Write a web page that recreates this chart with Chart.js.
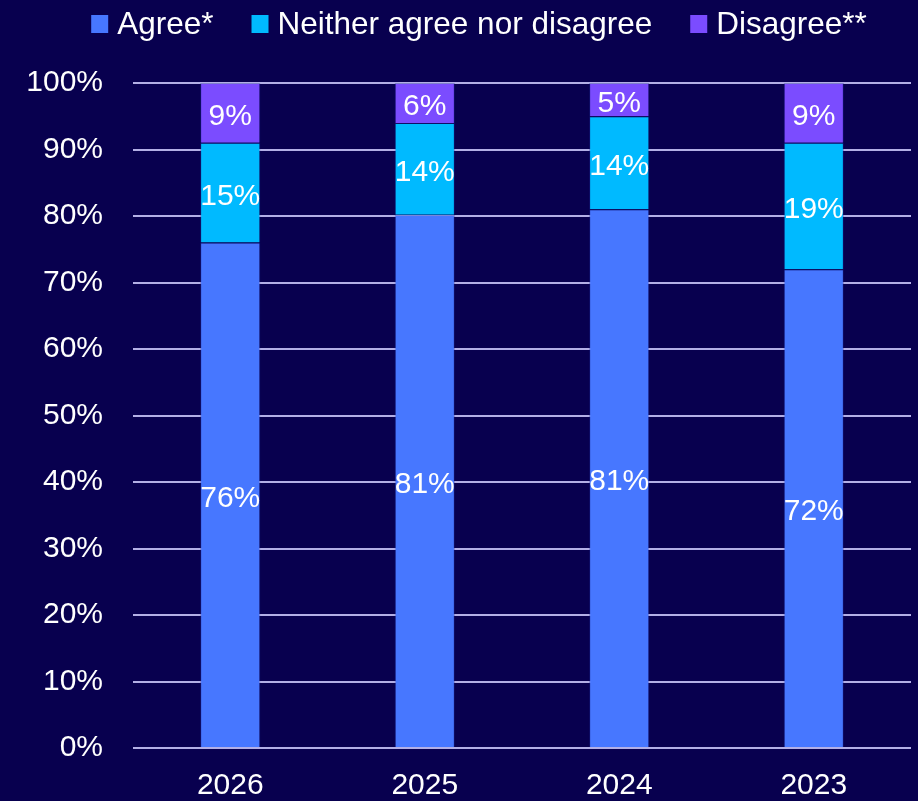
<!DOCTYPE html>
<html>
<head>
<meta charset="utf-8">
<script src="https://cdn.jsdelivr.net/npm/chart.js@4/dist/chart.umd.min.js"></script>
<style>
  body { margin: 0; background: #08004f; }
  #wrap { width: 918px; height: 801px; }
</style>
</head>
<body>
<div id="wrap"><canvas id="myChart"></canvas></div>
<script>
// categories (survey years)
const years = ['2026', '2025', '2024', '2023'];

// series names
const seriesNames = ['Agree*', 'Neither agree nor disagree', 'Disagree**'];

// segment sizes (%)
const agreeValues = [76, 80.2, 81, 72];
const neitherValues = [15, 13.8, 14, 19];
const disagreeValues = [9, 6, 5, 9];

// labels as printed on the bars
const agreeLabels = ['76%', '81%', '81%', '72%'];
const neitherLabels = ['15%', '14%', '14%', '19%'];
const disagreeLabels = ['9%', '6%', '5%', '9%'];

// y axis ticks
const yTicks = [0, 10, 20, 30, 40, 50, 60, 70, 80, 90, 100];

const COLORS = {
  agree: '#4777ff',
  neither: '#00baff',
  disagree: '#7b4cff',
  grid: '#b3afe6',
  text: '#ffffff'
};

const FONT = "'Liberation Sans', Arial, sans-serif";

const data = {
  labels: years,
  datasets: [
    { label: seriesNames[0], data: agreeValues, printed: agreeLabels, backgroundColor: COLORS.agree },
    { label: seriesNames[1], data: neitherValues, printed: neitherLabels, backgroundColor: COLORS.neither },
    { label: seriesNames[2], data: disagreeValues, printed: disagreeLabels, backgroundColor: COLORS.disagree }
  ]
};
data.datasets.forEach(ds => {
  ds.borderColor = 'rgba(30, 40, 150, 0.35)';
  ds.borderWidth = 1;
  ds.categoryPercentage = 0.31;
  ds.barPercentage = 1;
});

// white percentage text in the middle of each segment
const barLabels = {
  id: 'barLabels',
  afterDatasetsDraw(chart) {
    const ctx = chart.ctx;
    ctx.save();
    ctx.fillStyle = COLORS.text;
    ctx.font = '30px ' + FONT;
    ctx.textAlign = 'center';
    ctx.textBaseline = 'middle';
    chart.data.datasets.forEach((ds, i) => {
      chart.getDatasetMeta(i).data.forEach((bar, j) => {
        ctx.fillText(ds.printed[j], bar.x, (bar.y + bar.base) / 2 + 4);
      });
    });
    ctx.restore();
  }
};

// legend drawn by hand so the box/text spacing matches
const topLegend = {
  id: 'topLegend',
  afterDraw(chart) {
    const ctx = chart.ctx;
    const box = 18, gapText = 8, gapItem = 38, baseline = 34;
    ctx.save();
    ctx.font = '31.5px ' + FONT;
    let widths = chart.data.datasets.map(ds => box + gapText + ctx.measureText(ds.label).width);
    let total = widths.reduce((a, b) => a + b, 0) + gapItem * (widths.length - 1);
    let x = (chart.width + 40) / 2 - total / 2;
    chart.data.datasets.forEach((ds, i) => {
      ctx.fillStyle = ds.backgroundColor;
      ctx.fillRect(x, 15, box - 1, box);
      ctx.fillStyle = COLORS.text;
      ctx.textBaseline = 'alphabetic';
      ctx.textAlign = 'left';
      ctx.fillText(ds.label, x + box + gapText, baseline);
      x += widths[i] + gapItem;
    });
    ctx.restore();
  }
};

const config = {
  type: 'bar',
  data: data,
  options: {
    responsive: true,
    maintainAspectRatio: false,
    animation: false,
    layout: { padding: { top: 83, left: 26, right: 7, bottom: 0 } },
    plugins: {
      legend: { display: false },
      tooltip: { enabled: false }
    },
    scales: {
      x: {
        stacked: true,
        grid: { display: false },
        border: { display: false },
        afterFit: axis => { axis.height = 53; },
        ticks: { color: COLORS.text, font: { family: FONT, size: 30 }, padding: 12 }
      },
      y: {
        stacked: true,
        min: 0,
        max: 100,
        afterBuildTicks: axis => { axis.ticks = yTicks.map(v => ({ value: v })); },
        afterFit: axis => { axis.width = 107; },
        grid: { color: COLORS.grid, lineWidth: 2, drawTicks: false },
        border: { display: false },
        ticks: {
          color: COLORS.text,
          font: { family: FONT, size: 30 },
          padding: 30,
          callback: v => v + '%'
        }
      }
    }
  },
  plugins: [barLabels, topLegend]
};

const myChart = new Chart(document.getElementById('myChart'), config);
</script>
</body>
</html>
